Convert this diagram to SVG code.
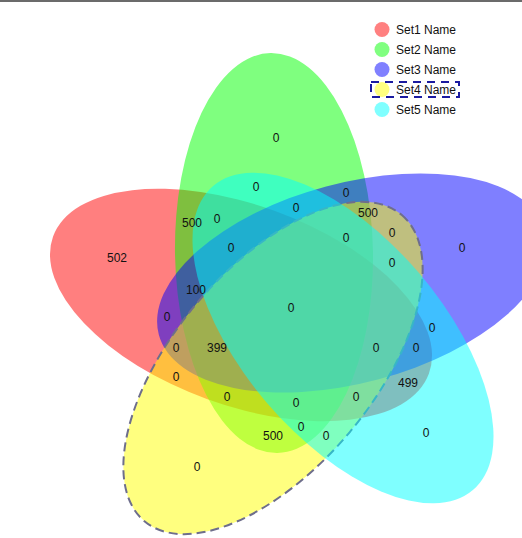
<svg xmlns="http://www.w3.org/2000/svg" width="522" height="538" viewBox="0 0 522 538">
<style>
.set{fill-opacity:0.5;stroke:none}
.lbl{font-family:"Liberation Sans",Arial,sans-serif;font-size:12px;fill:#111;text-anchor:middle}
.leg{font-family:"Liberation Sans",Arial,sans-serif;font-size:12px;fill:#111}
</style>
<rect x="0" y="0" width="522" height="538" fill="#fff"/>
<rect x="0" y="0" width="522" height="2" fill="#6b6b6b"/>
<g id="set1"><ellipse class="set" cx="241" cy="305" rx="200" ry="100" fill="#ff0000" transform="rotate(20 241 305)"/></g>
<g id="set2"><ellipse class="set" cx="274" cy="253" rx="200" ry="99" fill="#00ff00" transform="rotate(89 274 253)"/></g>
<g id="set3"><ellipse class="set" cx="352" cy="283" rx="200" ry="100" fill="#0000ff" transform="rotate(-15 352 283)"/></g>
<g id="set4"><ellipse cx="273" cy="368" rx="200" ry="100" fill="#ffff00" fill-opacity="0.5" stroke="#6e6e8c" stroke-width="2" stroke-dasharray="9,5" transform="rotate(-50 273 368)"/></g>
<g id="set5"><ellipse class="set" cx="343" cy="338" rx="200" ry="100" fill="#00ffff" transform="rotate(49.5 343 338)"/></g>
<g id="connectors"></g>
<g id="labels">
<text class="lbl" x="276" y="142">0</text>
<text class="lbl" x="117" y="262">502</text>
<text class="lbl" x="192" y="227">500</text>
<text class="lbl" x="217" y="223">0</text>
<text class="lbl" x="256" y="191">0</text>
<text class="lbl" x="296" y="212">0</text>
<text class="lbl" x="346" y="197">0</text>
<text class="lbl" x="368" y="217">500</text>
<text class="lbl" x="346" y="242">0</text>
<text class="lbl" x="392" y="237">0</text>
<text class="lbl" x="392" y="267">0</text>
<text class="lbl" x="462" y="252">0</text>
<text class="lbl" x="231" y="252">0</text>
<text class="lbl" x="196" y="294">100</text>
<text class="lbl" x="167" y="321">0</text>
<text class="lbl" x="291" y="312">0</text>
<text class="lbl" x="176" y="352">0</text>
<text class="lbl" x="217" y="352">399</text>
<text class="lbl" x="376" y="352">0</text>
<text class="lbl" x="416" y="352">0</text>
<text class="lbl" x="432" y="332">0</text>
<text class="lbl" x="176" y="381">0</text>
<text class="lbl" x="408" y="387">499</text>
<text class="lbl" x="227" y="401">0</text>
<text class="lbl" x="296" y="407">0</text>
<text class="lbl" x="356" y="401">0</text>
<text class="lbl" x="301" y="431">0</text>
<text class="lbl" x="273" y="440">500</text>
<text class="lbl" x="326" y="440">0</text>
<text class="lbl" x="426" y="437">0</text>
<text class="lbl" x="197" y="471">0</text>
</g>
<g id="legend">
<circle cx="382" cy="29.5" r="7.5" fill="#ff8080"/>
<text class="leg" x="396" y="34">Set1 Name</text>
<circle cx="382" cy="49.5" r="7.5" fill="#80ff80"/>
<text class="leg" x="396" y="54">Set2 Name</text>
<circle cx="382" cy="69.5" r="7.5" fill="#8080ff"/>
<text class="leg" x="396" y="74">Set3 Name</text>
<circle cx="382" cy="89.5" r="7.5" fill="#ffff80"/>
<text class="leg" x="396" y="94">Set4 Name</text>
<rect x="371" y="82" width="88" height="15" fill="none" stroke="#1a1aa0" stroke-width="2" stroke-dasharray="8,6"/>
<circle cx="382" cy="109.5" r="7.5" fill="#80ffff"/>
<text class="leg" x="396" y="114">Set5 Name</text>
</g>
</svg>
